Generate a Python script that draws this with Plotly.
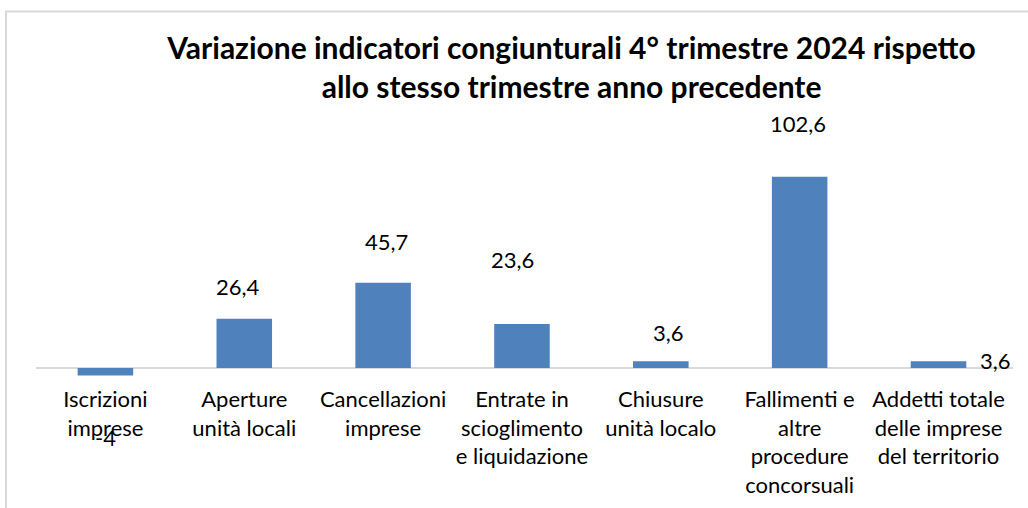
import plotly.graph_objects as go

categorie = [
    "Iscrizioni<br>imprese",
    "Aperture<br>unità locali",
    "Cancellazioni<br>imprese",
    "Entrate in<br>scioglimento<br>e liquidazione",
    "Chiusure<br>unità localo",
    "Fallimenti e<br>altre<br>procedure<br>concorsuali",
    "Addetti totale<br>delle imprese<br>del territorio",
]
variazione = [-4, 26.4, 45.7, 23.6, 3.6, 102.6, 3.6]

titolo = ("Variazione indicatori congiunturali 4° trimestre 2024 rispetto"
          "<br>allo stesso trimestre anno precedente")

# spostamento delle etichette (px), come posizionate a mano nel grafico originale
label_dx = [0, -6, 3, -9, 8, -2, 57]
label_dy = [-62, 32, 41, 64, 29, 53, 1]

FONT = "Lato, Calibri, 'Open Sans', sans-serif"
BLU = "#4F81BD"

fig = go.Figure(go.Bar(x=categorie, y=variazione, marker_color=BLU,
                       marker_line_width=0))

for c, v, dx, dy in zip(categorie, variazione, label_dx, label_dy):
    fig.add_annotation(x=c, y=v, text=f"{v:g}".replace(".", ","),
                       showarrow=False, xshift=dx, yshift=dy,
                       font=dict(size=22, color="#000000", family=FONT))

# cornice del grafico
fig.add_shape(type="rect", xref="paper", yref="paper",
              x0=-0.0307, x1=1.03, y0=-0.6, y1=1.518,
              line=dict(color="#d9d9d9", width=2), layer="below")

fig.update_layout(
    width=1028, height=508,
    margin=dict(l=36, r=15, t=140, b=120),
    paper_bgcolor="white", plot_bgcolor="white",
    bargap=0.6, showlegend=False,
    font=dict(family=FONT, size=22, color="#000000"),
    title=dict(text=titolo, x=0.556, xref="container", xanchor="center",
               y=0.883, yref="container", yanchor="middle",
               font=dict(size=30, family=FONT, color="#000000", weight="bold")),
)
fig.update_xaxes(showline=False, showgrid=False, ticks="", tickangle=0,
                 automargin=False, ticklabelstandoff=-4,
                 tickfont=dict(size=22, family=FONT, color="#000000"))
fig.update_yaxes(range=[-10.72, 122.25], showticklabels=False, showgrid=False,
                 zeroline=True, zerolinecolor="#d9d9d9", zerolinewidth=2)

# niente margine della pagina attorno alla figura
fig.write_html("out.html", config={"displayModeBar": False},
               post_script="document.body.style.margin='0';")
